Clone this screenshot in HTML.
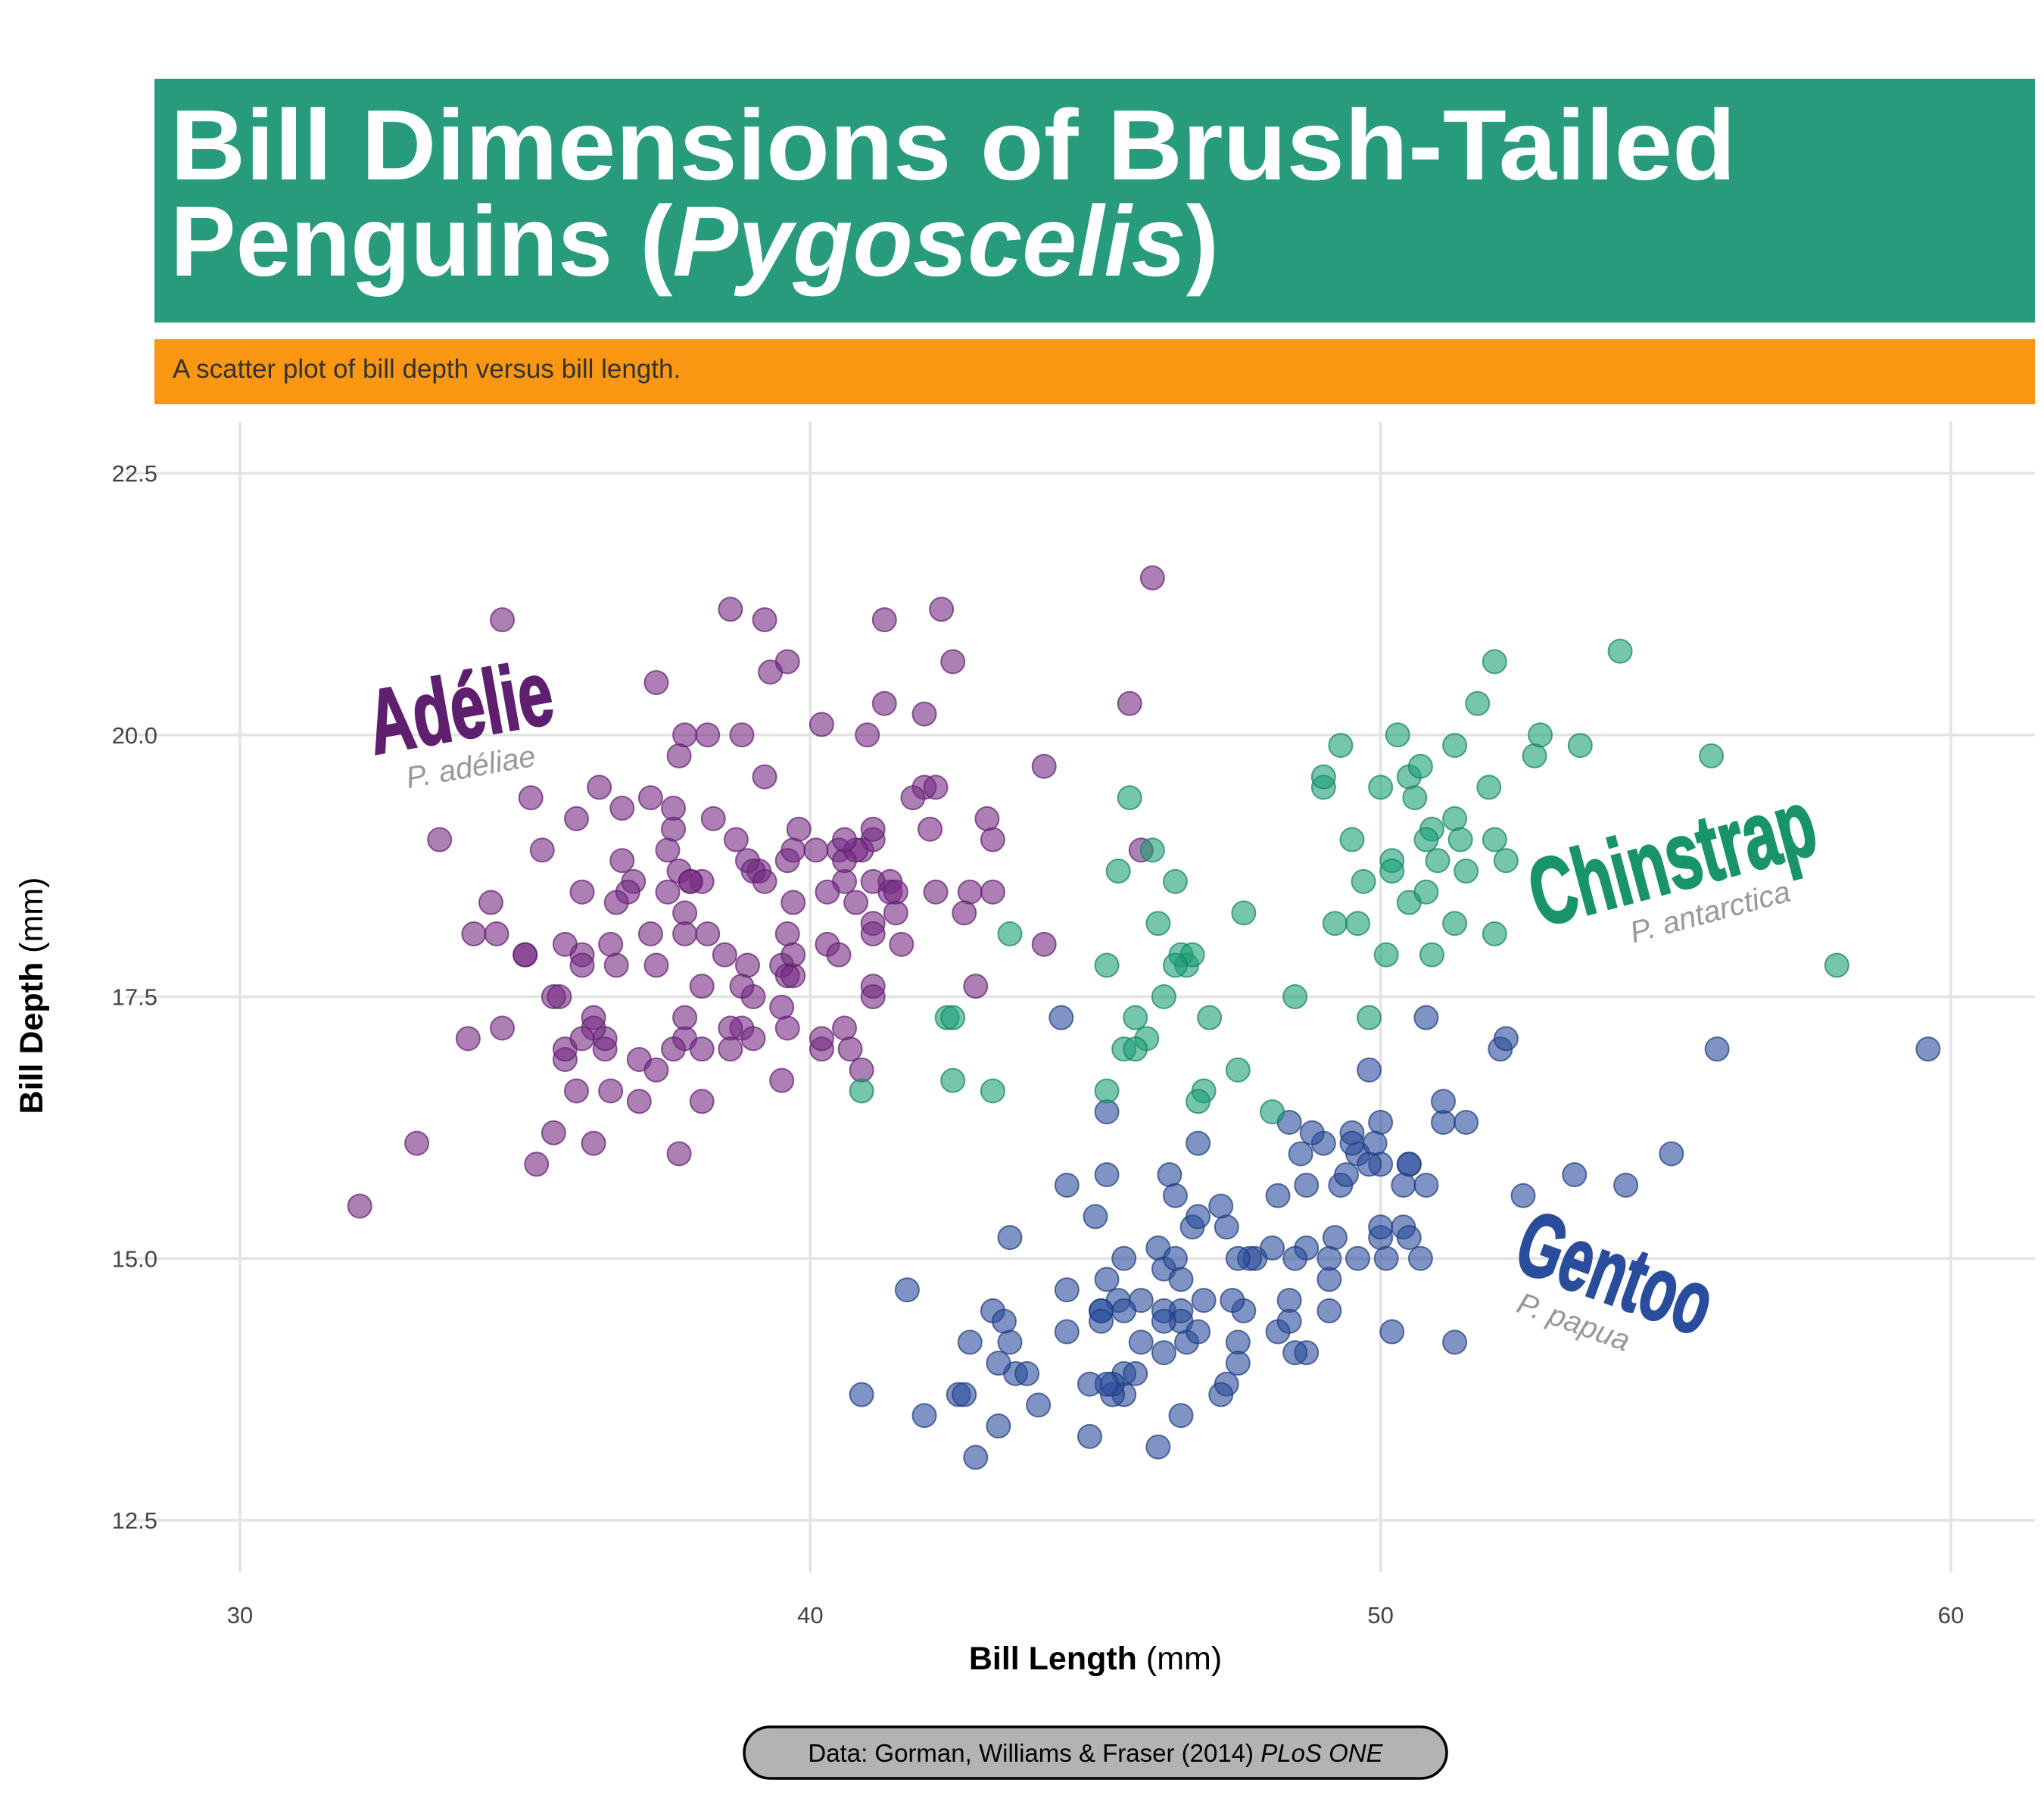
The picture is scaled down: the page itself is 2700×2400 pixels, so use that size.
<!DOCTYPE html>
<html><head><meta charset="utf-8"><style>
html,body{margin:0;padding:0;background:#fff;}
svg{display:block;}
</style></head><body>
<svg id="chart" xmlns="http://www.w3.org/2000/svg" width="2700" height="2400" viewBox="0 0 2700 2400" font-family="'Liberation Sans', 'DejaVu Sans', sans-serif">
<rect width="2700" height="2400" fill="#ffffff"/>
<rect x="204" y="104" width="2484" height="322" fill="#279b7b"/>
<text x="225" y="237" font-size="132" font-weight="bold" fill="#ffffff" textLength="2068" lengthAdjust="spacingAndGlyphs">Bill Dimensions of Brush-Tailed</text>
<text x="225" y="364" font-size="132" font-weight="bold" fill="#ffffff" textLength="1385" lengthAdjust="spacingAndGlyphs">Penguins (<tspan font-style="italic">Pygoscelis</tspan>)</text>
<rect x="204" y="448" width="2484" height="86" fill="#fb9712"/>
<text x="228" y="499" font-size="35" fill="#333333">A scatter plot of bill depth versus bill length.</text>
<g id="grid"></g>
<g id="ticks"></g>
<g id="points"></g>
<g id="labels">
  <g transform="translate(615,975) rotate(-10)">
    <text x="0" y="0" text-anchor="middle" font-family="'Liberation Sans Narrow','Liberation Sans',sans-serif" font-weight="bold" font-size="120" fill="#5e1f6e" stroke="#5e1f6e" stroke-width="3" textLength="245" lengthAdjust="spacingAndGlyphs">Adélie</text>
    <text x="0" y="52" text-anchor="middle" font-style="italic" font-size="40" fill="#999999">P. adéliae</text>
  </g>
  <g transform="translate(2220,1175) rotate(-15)">
    <text x="0" y="0" text-anchor="middle" font-family="'Liberation Sans Narrow','Liberation Sans',sans-serif" font-weight="bold" font-size="125" fill="#18936a" stroke="#18936a" stroke-width="3" textLength="385" lengthAdjust="spacingAndGlyphs">Chinstrap</text>
    <text x="30" y="52" text-anchor="middle" font-style="italic" font-size="40" fill="#999999">P. antarctica</text>
  </g>
  <g transform="translate(2120,1720) rotate(20)">
    <text x="0" y="0" text-anchor="middle" font-family="'Liberation Sans Narrow','Liberation Sans',sans-serif" font-weight="bold" font-size="120" fill="#2a4c9c" stroke="#2a4c9c" stroke-width="3" textLength="265" lengthAdjust="spacingAndGlyphs">Gentoo</text>
    <text x="-30" y="52" text-anchor="middle" font-style="italic" font-size="40" fill="#999999">P. papua</text>
  </g>
</g>
<text x="1447" y="2205" text-anchor="middle" font-size="43" fill="#000"><tspan font-weight="bold">Bill Length</tspan> (mm)</text>
<text transform="translate(56,1315) rotate(-90)" text-anchor="middle" font-size="43" fill="#000"><tspan font-weight="bold">Bill Depth</tspan> (mm)</text>
<rect x="983" y="2281" width="928" height="68" rx="34" fill="#b3b3b3" stroke="#000" stroke-width="3.5"/>
<text x="1447" y="2327" text-anchor="middle" font-size="33" fill="#000">Data: Gorman, Williams &amp; Fraser (2014) <tspan font-style="italic">PLoS ONE</tspan></text>
</svg>
<script>
const xTicks = [30, 40, 50, 60];
const yTicks = [12.5, 15.0, 17.5, 20.0, 22.5];
const yTickLabels = ["12.5", "15.0", "17.5", "20.0", "22.5"];
const adelieLen = [39.1,39.5,40.3,36.7,39.3,38.9,39.2,34.1,42,37.8,37.8,41.1,38.6,34.6,36.6,38.7,42.5,34.4,46,37.8,37.7,35.9,38.2,38.8,35.3,40.6,40.5,37.9,40.5,39.5,37.2,39.5,40.9,36.4,39.2,38.8,42.2,37.6,39.8,36.5,40.8,36,44.1,37,39.6,41.1,37.5,36,42.3,39.6,40.1,35,42,34.5,41.4,39,40.6,36.5,37.6,35.7,41.3,37.6,41.1,36.4,41.6,35.5,41.1,35.9,41.8,33.5,39.7,39.6,45.8,35.5,42.8,40.9,37.2,36.2,42.1,34.6,42.9,36.7,35.1,37.3,41.3,36.3,36.9,38.3,38.9,35.7,41.1,34,39.6,36.2,40.8,38.1,40.3,33.1,43.2,35,41,37.7,37.8,37.9,39.7,38.6,38.2,38.1,43.2,38.1,45.6,39.7,42.2,39.6,42.7,38.6,37.3,35.7,41.1,36.2,37.7,40.2,41.4,35.2,40.6,38.8,41.5,39,44.1,38.5,43.1,36.8,37.5,38.1,41.1,35.6,40.2,37,39.7,40.2,40.6,32.1,40.7,37.3,39,39.2,36.6,36,37.8,36,41.5];
const adelieDepth = [18.7,17.4,18,19.3,20.6,17.8,19.6,18.1,20.2,17.1,17.3,17.6,21.2,21.1,17.8,19,20.7,18.4,21.5,18.3,18.7,19.2,18.1,17.2,18.9,18.6,17.9,18.6,18.9,16.7,18.1,17.8,18.9,17,21.1,20,18.5,19.3,19.1,18,18.4,18.5,19.7,16.9,18.8,19,18.9,17.9,21.2,17.7,18.9,17.9,19.5,18.1,18.6,17.5,18.8,16.6,19.1,16.9,21.1,17,18.2,17.1,18,16.2,19.1,16.6,19.4,19,18.4,17.2,18.9,17.5,18.5,16.8,19.4,16.1,19.1,17.2,17.6,18.8,19.4,17.8,20.3,19.5,18.6,19.2,18.8,18,18.1,17.1,18.1,17.3,18.9,18.6,18.5,16.1,18.5,17.9,20,16,20,18.6,18.9,17.2,20,17,19,16.5,20.3,17.7,19.5,20.7,18.3,17,20.5,17,18.6,17.2,19.8,17,18.5,15.9,19,17.6,18.3,17.1,18,17.9,19.2,18.5,18.5,17.6,17.5,17.5,20.1,16.5,17.9,17.1,17.2,15.5,17,16.8,18.7,18.6,18.4,17.8,18.1,17.1,18.5];
const gentooLen = [46.1,50,48.7,50,47.6,46.5,45.4,46.7,43.3,46.8,40.9,49,45.5,48.4,45.8,49.3,42,49.2,46.2,48.7,50.2,45.1,46.5,46.3,42.9,46.1,44.5,47.8,48.2,50,47.3,42.8,45.1,59.6,49.1,48.4,42.6,44.4,44,48.7,42.7,49.6,45.3,49.6,50.5,43.6,45.5,50.5,44.9,45.2,46.6,48.5,45.1,50.1,46.5,45,43.8,45.5,43.2,50.4,45.3,46.2,45.7,54.3,45.8,49.8,46.2,49.5,43.5,50.7,47.7,46.4,48.2,46.5,46.4,48.6,47.5,51.1,45.2,45.2,49.1,52.5,47.4,50,44.9,50.8,43.4,51.3,47.5,52.1,47.5,52.2,45.5,49.5,44.5,50.8,49.4,46.9,48.4,51.1,48.5,55.9,47.2,49.1,47.3,46.8,41.7,53.4,43.3,48.1,50.5,49.8,43.5,51.5,46.2,55.1,44.5,48.8,47.2,46.8,50.4,45.2,49.9];
const gentooDepth = [13.2,16.3,14.1,15.2,14.5,13.5,14.6,15.3,13.4,15.4,13.7,16.1,13.7,14.6,14.6,15.7,13.5,15.2,14.5,15.1,14.3,14.5,14.5,15.8,13.1,15.1,14.3,15,14.3,15.3,15.3,14.2,14.5,17,14.8,16.3,13.7,17.3,13.6,15.7,13.7,16,13.7,15,15.9,13.9,13.9,15.9,13.3,15.8,14.2,14.1,14.4,15,14.4,15.4,13.9,15,14.5,15.3,13.8,14.9,13.9,15.7,14.2,16.8,14.4,16.2,14.2,15,15,15.6,15.6,14.8,15,16,14.2,16.3,13.8,16.4,14.5,15.6,14.6,15.9,13.8,17.3,14.4,14.2,14,17,15,17.1,14.5,16.1,14.7,15.7,15.8,14.6,14.4,16.5,15,17,15.5,15,13.8,16.1,14.7,15.8,14,15.1,15.2,15.9,15.2,16.3,14.1,16,15.7,16.2,13.7,14.3,15.7,14.8,16.1];
const chinLen = [46.5,50,51.3,45.4,52.7,45.2,46.1,51.3,46,51.3,46.6,51.7,47,52,45.9,50.5,50.3,58,46.4,49.2,42.4,48.5,43.2,50.6,46.7,52,50.5,49.5,46.4,52.8,40.9,54.2,42.5,51,49.7,47.5,47.6,52,46.9,53.5,49,46.2,50.9,45.5,50.9,50.8,50.1,49,51.5,49.8,48.1,51.4,45.7,50.7,42.5,52.2,45.2,49.3,50.2,45.6,51.9,46.8,45.7,55.8,43.5,49.6,50.8,50.2];
const chinDepth = [17.9,19.5,19.2,18.7,19.8,17.8,18.2,18.2,18.9,19.9,17.8,20.3,17.3,18.1,17.1,19.6,20,17.8,18.6,18.2,17.3,17.5,16.6,19.4,17.9,19,18.4,19,17.8,20,16.6,20.8,16.7,18.8,18.6,16.8,18.3,20.7,16.6,19.9,19.5,17.5,19.1,17,17.9,18.5,17.9,19.6,18.7,17.3,16.4,19,17.3,19.7,17.3,18.8,16.6,19.9,18.8,19.4,19.5,16.5,17,19.8,18.1,18.2,19,18.7];

const NS = "http://www.w3.org/2000/svg";
function xScale(v){ return 317 + (v - 30) * (2260 / 30); }
function yScale(v){ return 625 + (22.5 - v) * (1383 / 10); }

const grid = document.getElementById('grid');
const ticks = document.getElementById('ticks');
xTicks.forEach(function(t){
  const l = document.createElementNS(NS, 'line');
  
  
  l.setAttribute('x1', xScale(t)); l.setAttribute('x2', xScale(t));
  l.setAttribute('y1', 557); l.setAttribute('y2', 2077);
  l.setAttribute('stroke', '#e3e3e3'); l.setAttribute('stroke-width', 3.5);
  grid.appendChild(l);
  const tx = document.createElementNS(NS, 'text');
  
  
  tx.setAttribute('x', xScale(t)); tx.setAttribute('y', 2144);
  tx.setAttribute('text-anchor', 'middle'); tx.setAttribute('font-size', 31); tx.setAttribute('fill', '#444');
  tx.textContent = String(t);
  ticks.appendChild(tx);
});
yTicks.forEach(function(t, i){
  const l = document.createElementNS(NS, 'line');
  
  
  l.setAttribute('x1', 166); l.setAttribute('x2', 2688);
  l.setAttribute('y1', yScale(t)); l.setAttribute('y2', yScale(t));
  l.setAttribute('stroke', '#e3e3e3'); l.setAttribute('stroke-width', 3.5);
  grid.appendChild(l);
  const tx = document.createElementNS(NS, 'text');
  
  
  tx.setAttribute('x', 208); tx.setAttribute('y', yScale(t) + 11);
  tx.setAttribute('text-anchor', 'end'); tx.setAttribute('font-size', 31); tx.setAttribute('fill', '#444');
  tx.textContent = yTickLabels[i];
  ticks.appendChild(tx);
});

const pts = document.getElementById('points');
function drawSeries(xs, ys, fill, stroke, name){
  xs.forEach(function(x, i){
    const c = document.createElementNS(NS, 'circle');
    
    
    c.setAttribute('cx', xScale(x)); c.setAttribute('cy', yScale(ys[i]));
    c.setAttribute('r', 15.5);
    c.setAttribute('fill', fill); c.setAttribute('fill-opacity', 0.6);
    c.setAttribute('stroke', stroke); c.setAttribute('stroke-opacity', 0.7); c.setAttribute('stroke-width', 2);
    pts.appendChild(c);
  });
}
drawSeries(adelieLen, adelieDepth, '#762a83', '#5e1f6e', 'adelie-point');
drawSeries(gentooLen, gentooDepth, '#2a4c9c', '#1e3a7a', 'gentoo-point');
drawSeries(chinLen, chinDepth, '#1b9e77', '#12805f', 'chinstrap-point');
</script>
</body></html>
